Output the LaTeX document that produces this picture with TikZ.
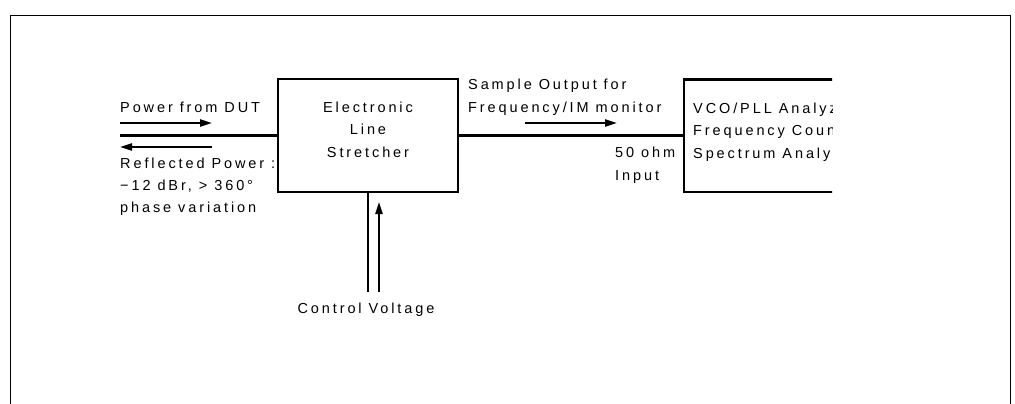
\documentclass[tikz,border=0pt]{standalone}
\usepackage{fontspec}
\newfontfamily\cadfont{Liberation Sans}[LetterSpace=20]
\usetikzlibrary{arrows.meta,positioning}

\begin{document}
\begin{tikzpicture}[x=1pt,y=-1pt,
box/.style={draw, line width=2.2pt, inner sep=0pt},
lbl/.style={inner sep=0pt, align=left, font=\cadfont\fontsize{14.5}{22.5}\selectfont},
wire/.style={line width=2.2pt},
arrow/.style={-{Triangle[length=12pt,width=7pt]}, line width=2.2pt},
frame/.style={line width=1pt}
]
\useasboundingbox (0,0) rectangle (1015,404);
\draw[frame] (10,404) -- (10,16) -- (1010,16) -- (1010,404);

% line stretcher
\node[box, minimum width=180pt, minimum height=113pt] (stretcher) at (368,135.5) {};
\node[lbl, align=center, anchor=base] (stretchtxt) at (368,157) {Electronic\\Line\\Stretcher};

% analyzer, cut off at the right
\begin{scope}
\clip (0,0) rectangle (832,404);
\node[box, minimum width=200pt, minimum height=112pt, anchor=north west] (analyzer) at (683,78.5) {};
\node[lbl, anchor=base west] (analyzertxt) at (693,158) {VCO/PLL Analyzer\\Frequency Counter\\Spectrum Analyzer};
\end{scope}

% input side
\coordinate (dut) at (120,135.5);
\draw[wire] (dut) -- (stretcher.west);
\coordinate (fwdA) at (120,123);
\coordinate (fwdB) at (212,123);
\draw[arrow] (fwdA) -- (fwdB);
\coordinate (revA) at (212,147);
\coordinate (revB) at (120,147);
\draw[arrow] (revA) -- (revB);
\node[lbl, anchor=base west] (dutlbl) at (120,112) {Power from DUT};
\node[lbl, anchor=base west, font=\cadfont\fontsize{14.5}{22}\selectfont] (refl) at (120,212)
{Reflected Power :\\−12 dBr, > 360°\\phase variation};

% output side
\draw[wire] (stretcher.east) -- (stretcher.east -| analyzer.west);
\node[lbl, anchor=base west] (sample) at (468,112) {Sample Output for\\Frequency/IM monitor};
\coordinate (outA) at (525,123);
\coordinate (outB) at (617,123);
\draw[arrow] (outA) -- (outB);
\node[lbl, anchor=base west] (ohm) at (615,180) {50 ohm\\Input};

% control voltage
\coordinate (ctrl) at (368,292);
\draw[wire] (stretcher.south) -- (ctrl);
\coordinate (cvA) at (379,292);
\coordinate (cvB) at (379,202);
\draw[arrow] (cvA) -- (cvB);
\node[lbl, anchor=base] (cv) at (366,313) {Control Voltage};

\end{tikzpicture}
\end{document}
